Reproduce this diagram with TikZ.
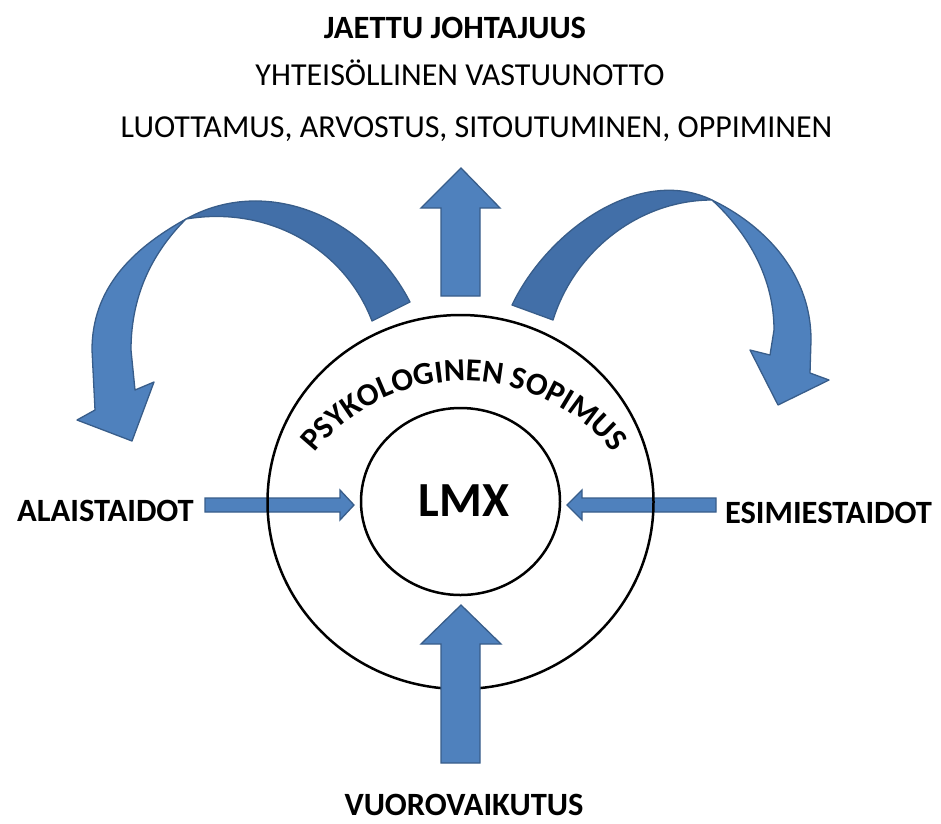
\documentclass[tikz,border=0pt]{standalone}
\usepackage{fontspec}
\setmainfont{Carlito}
\usetikzlibrary{decorations.text,shapes.geometric}
\definecolor{lightblue}{RGB}{79,129,189}
\definecolor{darkblue}{RGB}{66,111,168}
\definecolor{edgeblue}{RGB}{56,93,138}
\begin{document}
\begin{tikzpicture}[x=1pt,y=-1pt,
  blockarrow/.style={fill=lightblue, draw=edgeblue, line width=1.3pt, line join=miter},
  bandlight/.style={fill=lightblue, draw=edgeblue, line width=1.3pt, line join=round},
  banddark/.style={fill=darkblue, draw=edgeblue, line width=1.3pt, line join=round},
  ring/.style={draw=black, line width=2.5pt, ellipse, inner sep=0pt},
  boldlabel/.style={font=\fontsize{32.5}{39}\selectfont\bfseries, inner sep=0pt, anchor=base},
  plainlabel/.style={font=\fontsize{32}{38}\selectfont, inner sep=0pt, anchor=base}]
\useasboundingbox (0,0) rectangle (941,823);

% top texts
\node[boldlabel] (jaettu) at (455,38) {JAETTU JOHTAJUUS};
\node[plainlabel] (yht) at (460,85) {YHTEISÖLLINEN VASTUUNOTTO};
\node[plainlabel] (luot) at (476.5,137) {LUOTTAMUS, ARVOSTUS, SITOUTUMINEN, OPPIMINEN};

% side labels
\node[boldlabel] (ala) at (105.5,521) {ALAISTAIDOT};
\node[boldlabel] (esi) at (828.5,523) {ESIMIESTAIDOT};
\node[boldlabel] (vuoro) at (464,815) {VUOROVAIKUTUS};

% side arrows (under the ring)
\draw[blockarrow] (205,498) -- (340,498) -- (340,490) -- (354,505) -- (340,520) -- (340,512) -- (205,512) -- cycle;
\draw[blockarrow] (716,498) -- (582,498) -- (582,490) -- (567,505) -- (582,520) -- (582,512) -- (716,512) -- cycle;

% rings
\node[ring, minimum width=386pt, minimum height=374pt] (outer) at (460.5,502) {};
\node[ring, minimum width=199pt, minimum height=187pt] (inner) at (460.5,501.5) {};
\node[font=\fontsize{49}{58}\selectfont\bfseries, inner sep=0pt, anchor=base] (lmx) at (464,516) {LMX};

% curved text
\path[decorate, decoration={text along path, text align=center,
  text={|\fontsize{32}{38}\selectfont\bfseries|PSYKOLOGINEN SOPIMUS}}]
  (464,572) ++(-142:191) arc[start angle=-142, end angle=-38, radius=191];

% vertical arrows
\draw[blockarrow] (441,296) -- (441,208) -- (421,208) -- (461,168) -- (500,208) -- (480,208) -- (480,296) -- cycle;
\draw[blockarrow] (441,763) -- (441,644) -- (421,644) -- (461,605) -- (501,644) -- (480,644) -- (480,763) -- cycle;

% left curved arrow
\coordinate (lfold) at (186,219);
\draw[banddark] (410,302) .. controls (365,215) and (265,175) .. (lfold)
  .. controls (270,205) and (345,250) .. (372,321) -- cycle;
\draw[bandlight] (lfold) .. controls (130,250) and (92,290) .. (92,350) -- (95,410)
  -- (77,420) -- (132,441) -- (154,382) -- (135,390) -- (131,350)
  .. controls (131,292) and (155,250) .. (lfold) -- cycle;

% right curved arrow
\coordinate (rfold) at (712,200);
\draw[banddark] (512,305) .. controls (548,230) and (640,165) .. (rfold)
  .. controls (640,200) and (575,250) .. (553,320) -- cycle;
\draw[bandlight] (rfold) .. controls (760,223) and (811,270) .. (811,340) -- (810,373)
  -- (829,380) -- (778,405) -- (750,350) -- (770,355) -- (774,330)
  .. controls (774,280) and (750,235) .. (rfold) -- cycle;
\end{tikzpicture}
\end{document}
